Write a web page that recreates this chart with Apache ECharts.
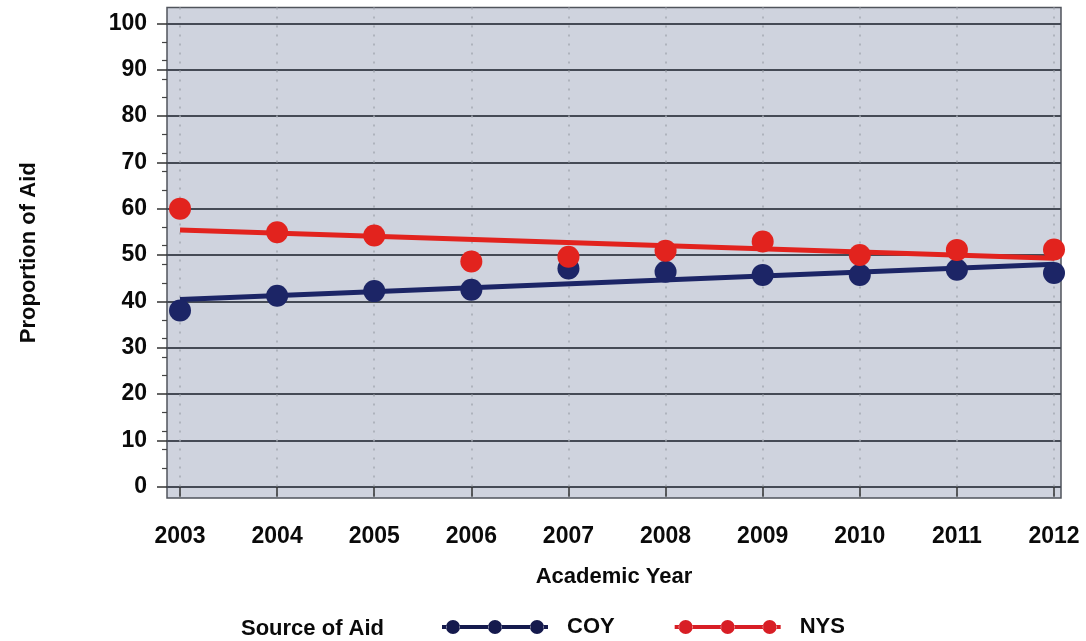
<!DOCTYPE html>
<html>
<head>
<meta charset="utf-8">
<script src="https://cdn.jsdelivr.net/npm/echarts@6/dist/echarts.min.js"></script>
<style>
  html, body { margin: 0; padding: 0; background: #ffffff; }
  #chart { width: 1086px; height: 641px; }
</style>
</head>
<body>
<div id="chart"></div>
<script>
// Academic years on the x axis
const years = [2003, 2004, 2005, 2006, 2007, 2008, 2009, 2010, 2011, 2012];
// Proportion of aid by source
const coyValues = [38.0, 41.2, 42.2, 42.5, 47.1, 46.4, 45.7, 45.7, 46.8, 46.1];
const nysValues = [60.0, 54.9, 54.2, 48.6, 49.6, 50.9, 52.9, 50.0, 51.1, 51.2];
// Fitted trend line end points (first and last year)
const trendYears = [2003, 2012];
const coyTrend = [40.4, 48.0];
const nysTrend = [55.4, 49.3];
// Y axis tick labels
const yTicks = [0, 10, 20, 30, 40, 50, 60, 70, 80, 90, 100];
const seriesNames = ['COY', 'NYS'];
const legendTitle = 'Source of Aid';

const NAVY = '#1c2566';
const RED = '#e2231e';
const FONT = '"Liberation Sans", Arial, sans-serif';
const INK = '#0a0a0a';

const pairs = (xs, ys) => xs.map((x, i) => [x, ys[i]]);

// Legend glyph: a bar with three dots, 106 x 14
const legendIcon = 'path://' +
  'M0,5L4.5,5L4.5,9L0,9Z' +
  'M17.5,5L46.5,5L46.5,9L17.5,9Z' +
  'M59.5,5L88.5,5L88.5,9L59.5,9Z' +
  'M101.5,5L106,5L106,9L101.5,9Z' +
  'M4,7A7,7 0 1,0 18,7A7,7 0 1,0 4,7Z' +
  'M46,7A7,7 0 1,0 60,7A7,7 0 1,0 46,7Z' +
  'M88,7A7,7 0 1,0 102,7A7,7 0 1,0 88,7Z';

const chart = echarts.init(document.getElementById('chart'), null, { renderer: 'canvas' });

const labelFont = { fontSize: 23, color: INK, fontFamily: FONT, fontWeight: 'bold' };

chart.setOption({
  animation: false,
  backgroundColor: '#ffffff',
  textStyle: { fontFamily: FONT },
  grid: {
    left: 167, right: 25, top: 7.5, bottom: 143,
    show: true,
    backgroundColor: '#cfd3de',
    borderColor: '#50545c',
    borderWidth: 1.5
  },
  xAxis: {
    type: 'value',
    min: 2002.866,
    max: 2012.072,
    name: 'Academic Year',
    nameLocation: 'middle',
    nameGap: 68,
    nameTextStyle: Object.assign({}, labelFont, { fontSize: 22 }),
    axisLine: { show: false },
    axisTick: { show: true, length: 10, lineStyle: { color: '#333', width: 1.5 }, customValues: years },
    axisLabel: Object.assign({
      customValues: years,
      margin: 27,
      formatter: v => String(v)
    }, labelFont),
    splitLine: { show: true, lineStyle: { color: '#a4a9b3', type: [2, 7], width: 1.5 } }
  },
  yAxis: {
    type: 'value',
    min: -2.44,
    max: 103.4,
    name: 'Proportion of Aid',
    nameLocation: 'middle',
    nameGap: 127,
    nameTextStyle: Object.assign({}, labelFont, { fontSize: 22 }),
    axisLine: { show: false },
    axisTick: { show: true, length: 10, lineStyle: { color: '#333', width: 1.5 }, customValues: yTicks },
    minorTick: { show: true, splitNumber: 5, length: 5, lineStyle: { color: '#444', width: 1.2 } },
    axisLabel: Object.assign({
      customValues: yTicks,
      margin: 20
    }, labelFont),
    splitLine: { show: true, lineStyle: { color: '#454a55', width: 1.8 } }
  },
  legend: {
    left: 437,
    top: 611,
    itemWidth: 106,
    itemHeight: 14,
    itemGap: 60,
    selectedMode: false,
    textStyle: Object.assign({}, labelFont, { fontSize: 22, padding: [0, 0, 0, 14] }),
    data: [
      { name: seriesNames[0], icon: legendIcon, itemStyle: { color: '#151a4d' } },
      { name: seriesNames[1], icon: legendIcon, itemStyle: { color: '#d81e25' } }
    ]
  },
  graphic: [{
    type: 'text',
    left: 241,
    top: 618,
    style: { text: legendTitle, fontSize: 22, fontWeight: 'bold', fill: INK, fontFamily: FONT }
  }],
  series: [
    {
      name: seriesNames[0], type: 'line', data: pairs(trendYears, coyTrend),
      symbol: 'none', silent: true,
      lineStyle: { color: NAVY, width: 5 }, itemStyle: { color: NAVY }, z: 2
    },
    {
      name: seriesNames[0], type: 'scatter', data: pairs(years, coyValues),
      symbolSize: 22, itemStyle: { color: NAVY, opacity: 1 }, z: 3
    },
    {
      name: seriesNames[1], type: 'line', data: pairs(trendYears, nysTrend),
      symbol: 'none', silent: true,
      lineStyle: { color: RED, width: 5 }, itemStyle: { color: RED }, z: 4
    },
    {
      name: seriesNames[1], type: 'scatter', data: pairs(years, nysValues),
      symbolSize: 22, itemStyle: { color: RED, opacity: 1 }, z: 5
    }
  ]
});
</script>
</body>
</html>
